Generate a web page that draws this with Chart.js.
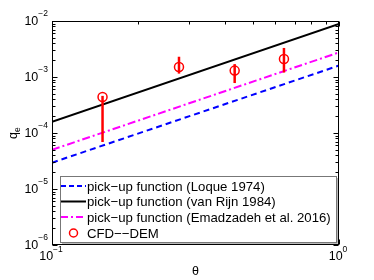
<!DOCTYPE html>
<html>
<head>
<meta charset="utf-8">
<script src="https://cdn.jsdelivr.net/npm/chart.js@4.4.1/dist/chart.umd.min.js"></script>
<style>
  html, body { margin: 0; padding: 0; background: #fff; }
  #wrap { width: 374px; height: 280px; }
</style>
</head>
<body>
<div id="wrap"><canvas id="c" width="374" height="280"></canvas></div>
<script>
// ===== DATA =====
const lineTheta = [0.1, 1.0]
const loqueQ = [2.95e-5, 1.6e-3]
const vanRijnQ = [1.58e-4, 8.9e-3]
const emadzadehQ = [5.0e-5, 2.75e-3]

const cfdTheta = [0.15, 0.277, 0.433, 0.643]
const cfdQ = [4.4e-4, 1.51e-3, 1.3e-3, 2.09e-3]
const cfdLow = [6.9e-5, 1.15e-3, 7.8e-4, 1.2e-3]
const cfdHigh = [4.6e-4, 2.3e-3, 1.7e-3, 3.3e-3]

const xDecades = [-1, 0]
const yDecades = [-6, -5, -4, -3, -2]

const legendLabels = [
  'pick\u2212up function (Loque 1974)',
  'pick\u2212up function (van Rijn 1984)',
  'pick\u2212up function (Emadzadeh et al. 2016)',
  'CFD\u2212\u2212DEM'
]

const FONT = '"Liberation Sans", Arial, Helvetica, sans-serif'

function pts(xs, ys) {
  return xs.map((x, i) => ({ x: x, y: ys[i] }))
}

// ===== PLUGIN: box, ticks, tick labels, error bars, legend =====
const decor = {
  id: 'decor',
  afterDatasetsDraw(chart) {
    const ctx = chart.ctx
    const xs = chart.scales.x
    const ys = chart.scales.y

    // error bars
    ctx.save()
    ctx.strokeStyle = '#ff0000'
    ctx.lineWidth = 2.5
    cfdTheta.forEach((t, i) => {
      const px = xs.getPixelForValue(t)
      ctx.beginPath()
      ctx.moveTo(px, ys.getPixelForValue(cfdLow[i]))
      ctx.lineTo(px, ys.getPixelForValue(cfdHigh[i]))
      ctx.stroke()
    })
    ctx.restore()
  },
  afterDraw(chart) {
    const ctx = chart.ctx
    const xs = chart.scales.x
    const ys = chart.scales.y
    const a = chart.chartArea

    ctx.save()
    ctx.strokeStyle = '#000'
    ctx.lineWidth = 1
    const L = Math.round(a.left) + 0.5, R = Math.round(a.right) - 0.5
    const T = Math.round(a.top) + 0.5, B = Math.round(a.bottom) - 0.5
    ctx.strokeRect(L, T, R - L, B - T)

    // x ticks (bottom + top, inward)
    xDecades.forEach((d, k) => {
      for (let m = 1; m <= 9; m++) {
        if (m > 1 && k === xDecades.length - 1) break
        const px = Math.round(xs.getPixelForValue(m * Math.pow(10, d))) + 0.5
        const len = m === 1 ? 5 : 3
        ctx.beginPath()
        ctx.moveTo(px, B); ctx.lineTo(px, B - len)
        ctx.moveTo(px, T); ctx.lineTo(px, T + len)
        ctx.stroke()
      }
    })
    // y ticks (left + right, inward)
    yDecades.forEach((d, k) => {
      for (let m = 1; m <= 9; m++) {
        if (m > 1 && k === yDecades.length - 1) break
        const py = Math.round(ys.getPixelForValue(m * Math.pow(10, d))) + 0.5
        const len = m === 1 ? 5 : 3
        ctx.beginPath()
        ctx.moveTo(L, py); ctx.lineTo(L + len, py)
        ctx.moveTo(R, py); ctx.lineTo(R - len, py)
        ctx.stroke()
      }
    })

    // tick labels
    ctx.fillStyle = '#000'
    ctx.textBaseline = 'middle'
    yDecades.forEach(d => {
      const py = ys.getPixelForValue(Math.pow(10, d))
      const exp = String(d).replace('-', '\u2212')
      ctx.font = '8.5px ' + FONT
      const ew = ctx.measureText(exp).width
      ctx.textAlign = 'right'
      ctx.fillText(exp, a.left - 4, py - 7)
      ctx.font = '12.5px ' + FONT
      ctx.fillText('10', a.left - 4 - ew, py + 1)
    })
    xDecades.forEach(d => {
      const px = xs.getPixelForValue(Math.pow(10, d))
      const exp = String(d).replace('-', '\u2212')
      ctx.font = '12.5px ' + FONT
      const bw = ctx.measureText('10').width
      ctx.font = '8.5px ' + FONT
      const ew = ctx.measureText(exp).width
      const x0 = px - (bw + ew) / 2 - 1
      ctx.textAlign = 'left'
      ctx.font = '12.5px ' + FONT
      ctx.fillText('10', x0, a.bottom + 12)
      ctx.font = '8.5px ' + FONT
      ctx.fillText(exp, x0 + bw, a.bottom + 5)
    })

    // axis titles
    ctx.font = '12.5px ' + FONT
    ctx.textAlign = 'center'
    ctx.fillText('\u03b8', (a.left + a.right) / 2, 272)
    ctx.save()
    ctx.translate(14, 133)
    ctx.rotate(-Math.PI / 2)
    ctx.textAlign = 'left'
    ctx.font = '12.5px ' + FONT
    ctx.fillText('q', -6, 0)
    ctx.font = '8.5px ' + FONT
    ctx.fillText('e', 1, 4)
    ctx.restore()

    // legend
    const lx = 60, ly = 176, lw = 276, lh = 66
    ctx.fillStyle = '#fff'
    ctx.fillRect(lx, ly, lw, lh)
    ctx.strokeStyle = '#777'
    ctx.lineWidth = 1
    ctx.strokeRect(lx + 0.5, ly + 0.5, lw, lh)
    ctx.strokeStyle = '#bbb'
    ctx.beginPath()
    ctx.moveTo(lx + 2, ly + lh + 1.5); ctx.lineTo(lx + lw + 1.5, ly + lh + 1.5); ctx.lineTo(lx + lw + 1.5, ly + 2)
    ctx.stroke()

    const rowY = [186, 201.5, 217, 233]
    const styles = [
      { color: '#0000ff', dash: [5, 3] },
      { color: '#000000', dash: [] },
      { color: '#ff00ff', dash: [7, 3, 2, 3] }
    ]
    styles.forEach((s, i) => {
      ctx.strokeStyle = s.color
      ctx.lineWidth = 2
      ctx.setLineDash(s.dash)
      ctx.beginPath()
      ctx.moveTo(61, rowY[i]); ctx.lineTo(86, rowY[i])
      ctx.stroke()
    })
    ctx.setLineDash([])
    ctx.strokeStyle = '#ff0000'
    ctx.lineWidth = 1.5
    ctx.beginPath()
    ctx.arc(73.5, rowY[3], 4, 0, Math.PI * 2)
    ctx.stroke()

    ctx.fillStyle = '#000'
    ctx.font = '13.2px ' + FONT
    ctx.textAlign = 'left'
    ctx.textBaseline = 'middle'
    legendLabels.forEach((t, i) => ctx.fillText(t, 87, rowY[i] + 1))
    ctx.restore()
  }
}

const hiddenAxis = {
  grid: { display: false, drawTicks: false },
  ticks: { display: false },
  border: { display: false }
}

// ===== CHART =====
const ctx = document.getElementById('c').getContext('2d')
new Chart(ctx, {
  type: 'scatter',
  data: {
    datasets: [
      {
        label: legendLabels[0],
        data: pts(lineTheta, loqueQ),
        showLine: true,
        borderColor: '#0000ff',
        borderWidth: 2,
        borderDash: [6, 4],
        pointRadius: 0
      },
      {
        label: legendLabels[1],
        data: pts(lineTheta, vanRijnQ),
        showLine: true,
        borderColor: '#000000',
        borderWidth: 2,
        pointRadius: 0
      },
      {
        label: legendLabels[2],
        data: pts(lineTheta, emadzadehQ),
        showLine: true,
        borderColor: '#ff00ff',
        borderWidth: 2,
        borderDash: [8, 3, 2, 3],
        pointRadius: 0
      },
      {
        label: legendLabels[3],
        data: pts(cfdTheta, cfdQ),
        showLine: false,
        borderColor: '#ff0000',
        backgroundColor: 'rgba(0,0,0,0)',
        borderWidth: 1.5,
        pointRadius: 4.5
      }
    ]
  },
  options: {
    responsive: false,
    animation: false,
    layout: { padding: { left: 52, right: 35, top: 21, bottom: 35 } },
    plugins: {
      legend: { display: false },
      tooltip: { enabled: false }
    },
    scales: {
      x: Object.assign({
        type: 'logarithmic',
        min: 0.1,
        max: 1,
        afterFit: s => { s.height = 0 }
      }, hiddenAxis),
      y: Object.assign({
        type: 'logarithmic',
        min: 1e-6,
        max: 1e-2,
        afterFit: s => { s.width = 0 }
      }, hiddenAxis)
    }
  },
  plugins: [decor]
})
</script>
</body>
</html>
